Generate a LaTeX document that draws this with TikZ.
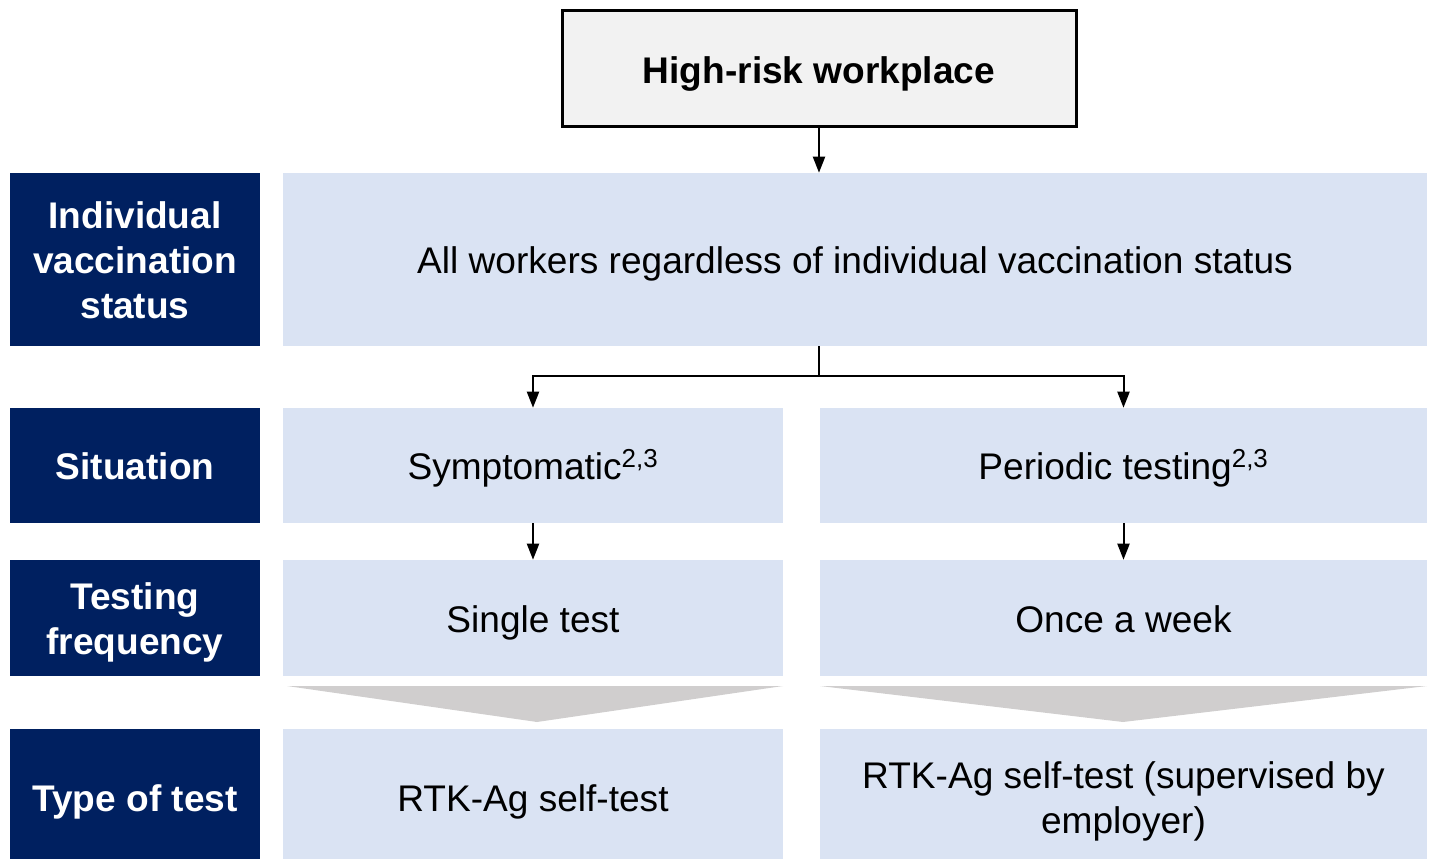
\documentclass[tikz,border=0pt]{standalone}
\usepackage{fontspec}
\setmainfont{Liberation Sans}
\usetikzlibrary{arrows.meta}
\definecolor{navy}{RGB}{0,32,96}
\definecolor{lblue}{RGB}{218,227,243}
\definecolor{tgrey}{RGB}{208,206,206}
\definecolor{topfill}{RGB}{242,242,242}
\begin{document}
\begin{tikzpicture}[x=0.75pt,y=-0.75pt,
  txt/.style={font=\fontsize{27.8pt}{33.75pt}\selectfont, align=center, inner sep=0pt, text depth=0pt},
  one/.style={text height=21.5pt},
  two/.style={text height=55.25pt},
  three/.style={text height=89pt},
  hdr/.style={txt, fill=navy, text=white, font=\fontsize{27.8pt}{33.75pt}\selectfont\bfseries, minimum width=187.5pt},
  lbox/.style={txt, fill=lblue, text=black},
  topbox/.style={txt, one, fill=topfill, draw=black, line width=2.25pt, font=\fontsize{27.8pt}{33.75pt}\selectfont\bfseries, minimum width=385.5pt, minimum height=87pt},
  arr/.style={line width=1.5pt, -{Triangle[length=12pt,width=9pt]}}
]
\useasboundingbox (0,0) rectangle (1432,859);
% top
\node[topbox] (top) at (819,69) {High-risk workplace};
% row 1
\node[hdr, three, minimum height=129.75pt] (h1) at (135,259.5) {Individual\\vaccination\\status};
\node[lbox, one, minimum width=858pt, minimum height=129.75pt] (l1) at (855,259.5) {All workers regardless of individual vaccination status};
% row 2
\node[hdr, one, minimum height=86.25pt] (h2) at (135,465.5) {Situation};
\node[lbox, one, minimum width=375pt, minimum height=86.25pt] (s1) at (533,465.5) {Symptomatic\textsuperscript{2,3}};
\node[lbox, one, minimum width=455.25pt, minimum height=86.25pt] (s2) at (1123.5,465.5) {Periodic testing\textsuperscript{2,3}};
% row 3
\node[hdr, two, minimum height=87pt] (h3) at (135,618) {Testing\\frequency};
\node[lbox, one, minimum width=375pt, minimum height=87pt] (f1) at (533,618) {Single test};
\node[lbox, one, minimum width=455.25pt, minimum height=87pt] (f2) at (1123.5,618) {Once a week};
% row 4 (boxes run past the lower edge)
\node[hdr, one, minimum height=102pt] (h4) at (135,797) {Type of test};
\node[lbox, one, minimum width=375pt, minimum height=102pt] (t1) at (533,797) {RTK-Ag self-test};
\node[lbox, two, minimum width=455.25pt, minimum height=102pt] (t2) at (1123.5,797) {RTK-Ag self-test (supervised by\\employer)};
% grey chevrons
\fill[tgrey] (287,686) -- (783,686) -- (537,722) -- cycle;
\fill[tgrey] (820,686) -- (1427,686) -- (1123,722) -- cycle;
% connectors
\draw[arr] (top.south) -- (top.south |- l1.north);
\coordinate (br) at (819,376);
\draw[line width=1.5pt] (top.south |- l1.south) -- (br);
\draw[arr] (br) -| (s1.north);
\draw[arr] (br) -| (s2.north);
\draw[arr] (s1.south) -- (f1.north);
\draw[arr] (s2.south) -- (f2.north);
\end{tikzpicture}
\end{document}
